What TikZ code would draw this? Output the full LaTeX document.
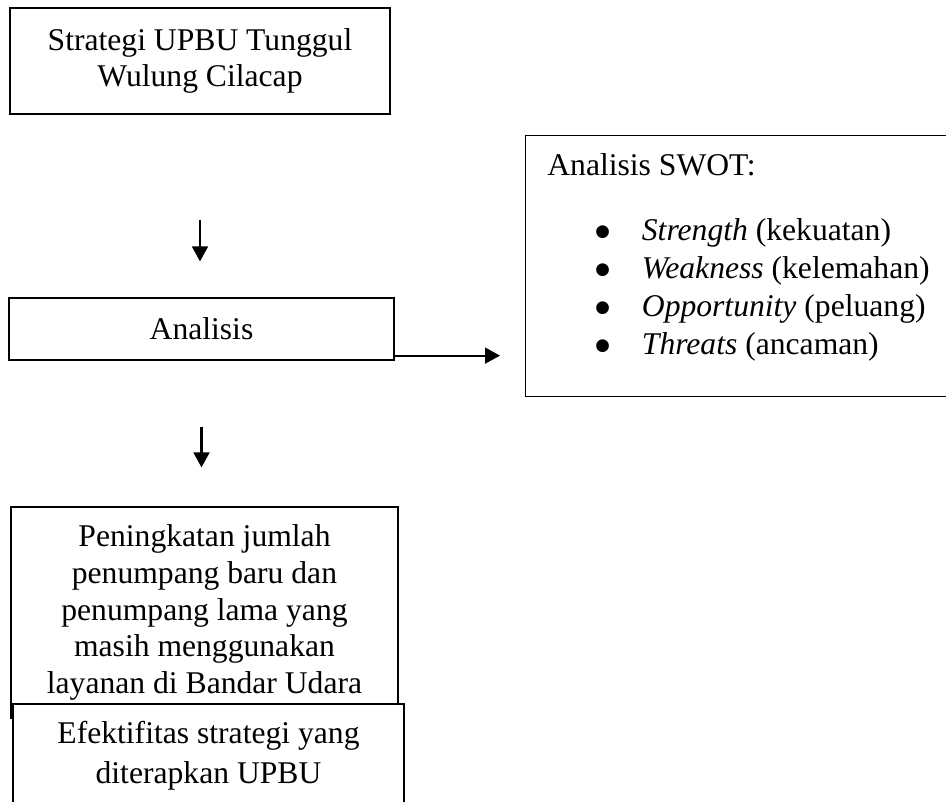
\documentclass[tikz,border=0pt]{standalone}
\usepackage{fontspec}
\setmainfont{Liberation Serif}
\newfontfamily\dotfont{DejaVu Sans}
\usepackage{tikz}
\usetikzlibrary{arrows.meta}
\usetikzlibrary{positioning}
\tikzstyle{box}=[draw,line width=0.7pt,fill=white,align=center,inner sep=0pt,
                font=\fontsize{18}{20.8}\selectfont]
\tikzstyle{txt}=[inner sep=0pt,font=\fontsize{18}{20.8}\selectfont]
\tikzstyle{arr}=[-{Triangle[length=8.5pt,width=9pt]},line width=1.2pt]
\newcommand{\bigdot}{\raisebox{2.3pt}{\dotfont\fontsize{9.5}{9.5}\selectfont ●}}

\begin{document}
\begin{tikzpicture}[x=0.02cm,y=-0.02cm]
\useasboundingbox (0,0) rectangle (946,801);
\clip (0,0) rectangle (946,801);
\node [box,minimum width=7.6cm,minimum height=2.12cm] (strat) at (200,61)
  {Strategi UPBU Tunggul\\Wulung Cilacap};
\node [box,minimum width=7.7cm,minimum height=1.24cm] (anl) at (201.5,329) {Analisis};
\node [box,minimum width=8.9cm,minimum height=5.22cm,anchor=north west] (swot) at (525,135) {};
\node [txt,anchor=base west] (swottitle) at (547,175) {Analisis SWOT:};
\foreach \w/\d [count=\i from 0] in {Strength/kekuatan,Weakness/kelemahan,
                                    Opportunity/peluang,Threats/ancaman}
  \node [txt,anchor=base west] (item\i) at (595,{240.7+38*\i})
    {\makebox[26.5pt][l]{\bigdot}\textit{\w} (\d)};
\node [box,minimum width=7.74cm,minimum height=4.22cm] (naik) at (204.5,612.5)
  {Peningkatan jumlah\\penumpang baru dan\\penumpang lama yang\\masih menggunakan\\layanan di Bandar Udara};
\node [box,minimum width=7.82cm,minimum height=2.06cm,
       font=\fontsize{18}{22.7}\selectfont] (efek) at (208.5,755.5)
  {Efektifitas strategi yang\\diterapkan UPBU};
\draw [arr,shorten <=2.1cm,shorten >=0.72cm] (strat.south) -- (strat.south |- anl.north);
\draw [arr,shorten <=1.32cm,shorten >=0.78cm] (anl.south) -- (anl.south |- naik.north);
\draw [arr,shorten >=0.5cm] ([yshift=0.1cm]anl.south east) -- ([yshift=0.1cm]anl.south east -| swot.west);
\end{tikzpicture}
\end{document}
